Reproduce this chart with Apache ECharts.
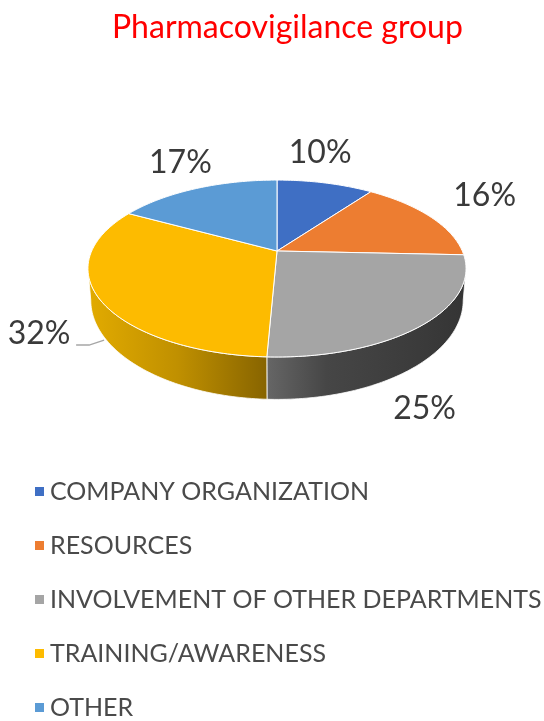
<!DOCTYPE html>
<html>
<head>
<meta charset="utf-8">
<title>Pharmacovigilance group</title>
<script src="https://cdn.jsdelivr.net/npm/echarts@6/dist/echarts.min.js"></script>
<style>
  html, body { margin: 0; padding: 0; background: #fff; }
  #chart { width: 544px; height: 721px; }
</style>
</head>
<body>
<div id="chart"></div>
<script>
const chartTitle = 'Pharmacovigilance group'
const categories = ['COMPANY ORGANIZATION', 'RESOURCES', 'INVOLVEMENT OF OTHER DEPARTMENTS', 'TRAINING/AWARENESS', 'OTHER']
// shown rounded on the labels, slice angles suggest a little more precision
const shares = [10, 15.7, 25, 32.3, 17]
const colors = ['#3f6fc4', '#ed7d31', '#a5a5a5', '#fdbb00', '#5b9bd5']

// perspective disc
const cx = 277
const apexY = 251
const rx = 185.3
const ry = 85
const persp = 0.198
const LABEL_FONT = '32px Lato, sans-serif'
const LABEL_COLOR = '#3a3a3a'

// label distance from the rim at the middle of each slice
const labelNudge = [[-5, -30], [54, -21], [1, 84], [-59, 37], [-16, -26]]

const wallFills = {
  2: [[0, '#666666'], [0.3, '#464646'], [0.8, '#3a3a3a'], [1, '#343434']],
  3: [[0, '#e2ab00'], [0.5, '#c09000'], [1, '#876400']]
}

// turn is in degrees, clockwise from the top
function rim(turn) {
  const a = turn * Math.PI / 180
  const u = Math.sin(a)
  const v = Math.cos(a)
  const s = 1 / (1 + persp * v)
  return [cx + rx * u * s, apexY - ry * v * s]
}

function lowerRim(turn) {
  const p = rim(turn)
  return [cx + (p[0] - cx) * 0.985, apexY + (p[1] - apexY) * 1.12 + 29.7]
}

function arc(fn, from, to) {
  const pts = []
  const steps = Math.max(2, Math.ceil(Math.abs(to - from)))
  for (let i = 0; i <= steps; i++) pts.push(fn(from + (to - from) * i / steps))
  return pts
}

const total = shares.reduce((a, b) => a + b, 0)
const edge = Math.asin(persp) * 180 / Math.PI

function sliceRenderer(index) {
  return function (params, api) {
    let before = 0
    for (let i = 0; i < index; i++) before += shares[i]
    const value = api.value(0)
    const start = before / total * 360
    const end = (before + value) / total * 360
    const children = []

    // only the part of the side wall facing the viewer
    const wallFrom = Math.max(start, 90 + edge)
    const wallTo = Math.min(end, 270 - edge)
    if (wallTo > wallFrom) {
      const stops = wallFills[index].map(function (s) { return { offset: s[0], color: s[1] } })
      children.push({
        type: 'polygon',
        z2: 1,
        shape: { points: arc(rim, wallFrom, wallTo).concat(arc(lowerRim, wallTo, wallFrom)) },
        style: {
          fill: new echarts.graphic.LinearGradient(0, 0, 1, 0, stops),
          stroke: '#ffffff',
          lineWidth: 0.8
        }
      })
    }

    children.push({
      type: 'polygon',
      z2: 2,
      shape: { points: [[cx, apexY]].concat(arc(rim, start, end)) },
      style: { fill: colors[index], stroke: '#ffffff', lineWidth: 1 }
    })

    const mid = rim((start + end) / 2)
    const labelX = mid[0] + labelNudge[index][0]
    const labelY = mid[1] + labelNudge[index][1]
    children.push({
      type: 'text',
      z2: 3,
      style: {
        x: labelX,
        y: labelY,
        text: value.toFixed(0) + '%',
        font: LABEL_FONT,
        fill: LABEL_COLOR,
        align: 'center',
        verticalAlign: 'middle'
      }
    })

    // the one leader line, on the training slice
    if (index === 3) {
      children.push({
        type: 'polyline',
        z2: 3,
        shape: { points: [[labelX + 37, labelY + 11], [labelX + 50, labelY + 11], [labelX + 65, labelY + 6]] },
        style: { fill: null, stroke: '#a6a6a6', lineWidth: 1.5 }
      })
    }
    return { type: 'group', children: children }
  }
}

const chart = echarts.init(document.getElementById('chart'), null, { renderer: 'canvas' })
chart.setOption({
  animation: false,
  backgroundColor: '#ffffff',
  title: {
    text: chartTitle,
    left: 107,
    top: 7,
    textStyle: { color: '#ff0000', fontSize: 32, fontWeight: 'normal', fontFamily: 'Lato, sans-serif' }
  },
  legend: {
    orient: 'vertical',
    left: 30,
    top: 474,
    height: 320,
    data: categories,
    icon: 'rect',
    itemWidth: 9,
    itemHeight: 9,
    itemGap: 29,
    selectedMode: false,
    textStyle: { color: '#4a4a4a', fontSize: 25, fontFamily: 'Lato, sans-serif', lineHeight: 25, padding: [0, 0, 0, 1] }
  },
  series: categories.map(function (name, i) {
    return {
      type: 'custom',
      name: name,
      coordinateSystem: 'none',
      itemStyle: { color: colors[i] },
      renderItem: sliceRenderer(i),
      data: [[shares[i]]]
    }
  })
})
window.addEventListener('resize', function () { chart.resize() })
</script>
</body>
</html>
